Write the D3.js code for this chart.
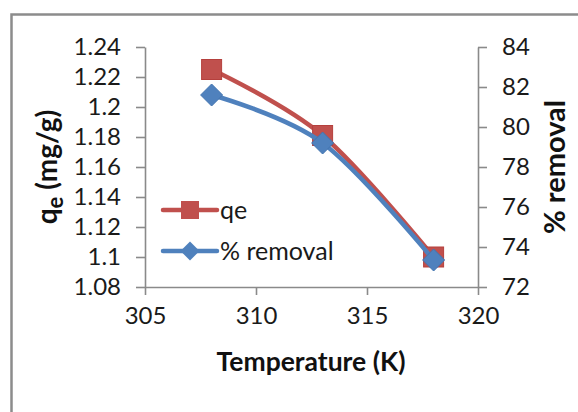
<!DOCTYPE html>
<html><head><meta charset="utf-8">
<script src="https://cdn.jsdelivr.net/npm/d3@7"></script>
<style>
html,body{margin:0;padding:0;background:#fff;}
svg{display:block;}
text{font-family:Lato,"Liberation Sans",sans-serif;}
</style></head>
<body>
<svg id="chart" width="578" height="412"></svg>
<script>
const temperature = [308, 313, 318];
const qe = [1.225, 1.181, 1.100];
const removal = [81.6, 79.2, 73.35];
const xTicks = [305, 310, 315, 320];
const yLeftTicks = [1.08, 1.10, 1.12, 1.14, 1.16, 1.18, 1.20, 1.22, 1.24];
const yLeftLabels = ["1.08","1.1","1.12","1.14","1.16","1.18","1.2","1.22","1.24"];
const yRightTicks = [72, 74, 76, 78, 80, 82, 84];
const seriesNames = ["qe", "% removal"];

const svg = d3.select("#chart");
const L = 145, R = 478, T = 47, B = 287;
const x = d3.scaleLinear().domain([305, 320]).range([L, R]);
const yL = d3.scaleLinear().domain([1.08, 1.24]).range([B, T]);
const yR = d3.scaleLinear().domain([72, 84]).range([B, T]);

// frame
svg.append("rect").attr("x", 11.5).attr("y", 14.5).attr("width", 600).attr("height", 420)
  .attr("fill", "none").attr("stroke", "#8c8c8c").attr("stroke-width", 2.5);

const axisColor = "#8a8a8a";
function styleAxis(g) {
  g.selectAll("path").attr("stroke", axisColor).attr("stroke-width", 1.6);
  g.selectAll("line").attr("stroke", axisColor).attr("stroke-width", 1.6);
  g.selectAll("text").attr("fill", "#1a1a1a").style("font-size", "24px")
    .style("font-family", "Lato, 'Liberation Sans', sans-serif");
}

const gx = svg.append("g").attr("transform", `translate(0,${B})`)
  .call(d3.axisBottom(x).tickValues(xTicks).tickFormat(d3.format("d")).tickSize(8).tickSizeOuter(0).tickPadding(12));
styleAxis(gx);

const gl = svg.append("g").attr("transform", `translate(${L},0)`)
  .call(d3.axisLeft(yL).tickValues(yLeftTicks).tickFormat((d, i) => yLeftLabels[i]).tickSize(9).tickSizeOuter(0).tickPadding(15));
styleAxis(gl);

const gr = svg.append("g").attr("transform", `translate(${R},0)`)
  .call(d3.axisRight(yR).tickValues(yRightTicks).tickFormat(d3.format("d")).tickSize(9).tickSizeOuter(0).tickPadding(15));
styleAxis(gr);

const red = "#C0504D", blue = "#4F81BD";
const curve = d3.curveCardinal.tension(0);

const lineQ = d3.line().x((d, i) => x(temperature[i])).y(d => yL(d)).curve(curve);
const lineR = d3.line().x((d, i) => x(temperature[i])).y(d => yR(d)).curve(curve);

svg.append("path").datum(qe).attr("d", lineQ).attr("fill", "none").attr("stroke", red)
  .attr("stroke-width", 4.5).attr("stroke-linejoin", "round");
svg.selectAll(".sq").data(qe).join("rect").attr("class", "sq")
  .attr("x", (d, i) => x(temperature[i]) - 10).attr("y", d => yL(d) - 10)
  .attr("width", 20).attr("height", 20).attr("fill", red).attr("stroke", "#b5403d").attr("stroke-width", 1);

svg.append("path").datum(removal).attr("d", lineR).attr("fill", "none").attr("stroke", blue)
  .attr("stroke-width", 4.5).attr("stroke-linejoin", "round");
const diamond = s => `M0,${-s}L${s},0L0,${s}L${-s},0Z`;
svg.selectAll(".dm").data(removal).join("path").attr("class", "dm")
  .attr("transform", (d, i) => `translate(${x(temperature[i])},${yR(d)})`)
  .attr("d", diamond(11)).attr("fill", blue).attr("stroke", "#4274b0").attr("stroke-width", 1);

// legend
const lg = svg.append("g");
const legY = [210, 251];
lg.append("line").attr("x1", 163).attr("x2", 217).attr("y1", legY[0]).attr("y2", legY[0])
  .attr("stroke", red).attr("stroke-width", 4.5).attr("stroke-linecap", "round");
lg.append("rect").attr("x", 181).attr("y", legY[0] - 9).attr("width", 18).attr("height", 18).attr("fill", red);
lg.append("line").attr("x1", 163).attr("x2", 217).attr("y1", legY[1]).attr("y2", legY[1])
  .attr("stroke", blue).attr("stroke-width", 4.5).attr("stroke-linecap", "round");
lg.append("path").attr("transform", `translate(190,${legY[1]})`).attr("d", diamond(9.5)).attr("fill", blue);
lg.selectAll(".lt").data(seriesNames).join("text").attr("class", "lt")
  .attr("x", 220).attr("y", (d, i) => legY[i]).attr("dy", "0.35em")
  .style("font-size", "25px").attr("fill", "#1a1a1a").text(d => d);

// axis titles
svg.append("text").attr("x", 311).attr("y", 371).attr("text-anchor", "middle")
  .style("font-size", "26.5px").style("font-weight", "bold").attr("fill", "#111").text("Temperature (K)");

const tl = svg.append("text").attr("transform", `translate(57,${(T + B) / 2}) rotate(-90)`)
  .attr("text-anchor", "middle").style("font-size", "28px").style("font-weight", "bold").attr("fill", "#111");
tl.append("tspan").text("q");
tl.append("tspan").attr("dy", 6).style("font-size", "22px").text("e");
tl.append("tspan").attr("dy", -6).text(" (mg/g)");

svg.append("text").attr("transform", `translate(565,${(T + B) / 2}) rotate(-90)`)
  .attr("text-anchor", "middle").style("font-size", "29px").style("font-weight", "bold").attr("fill", "#111").text("% removal");
</script>
</body></html>
